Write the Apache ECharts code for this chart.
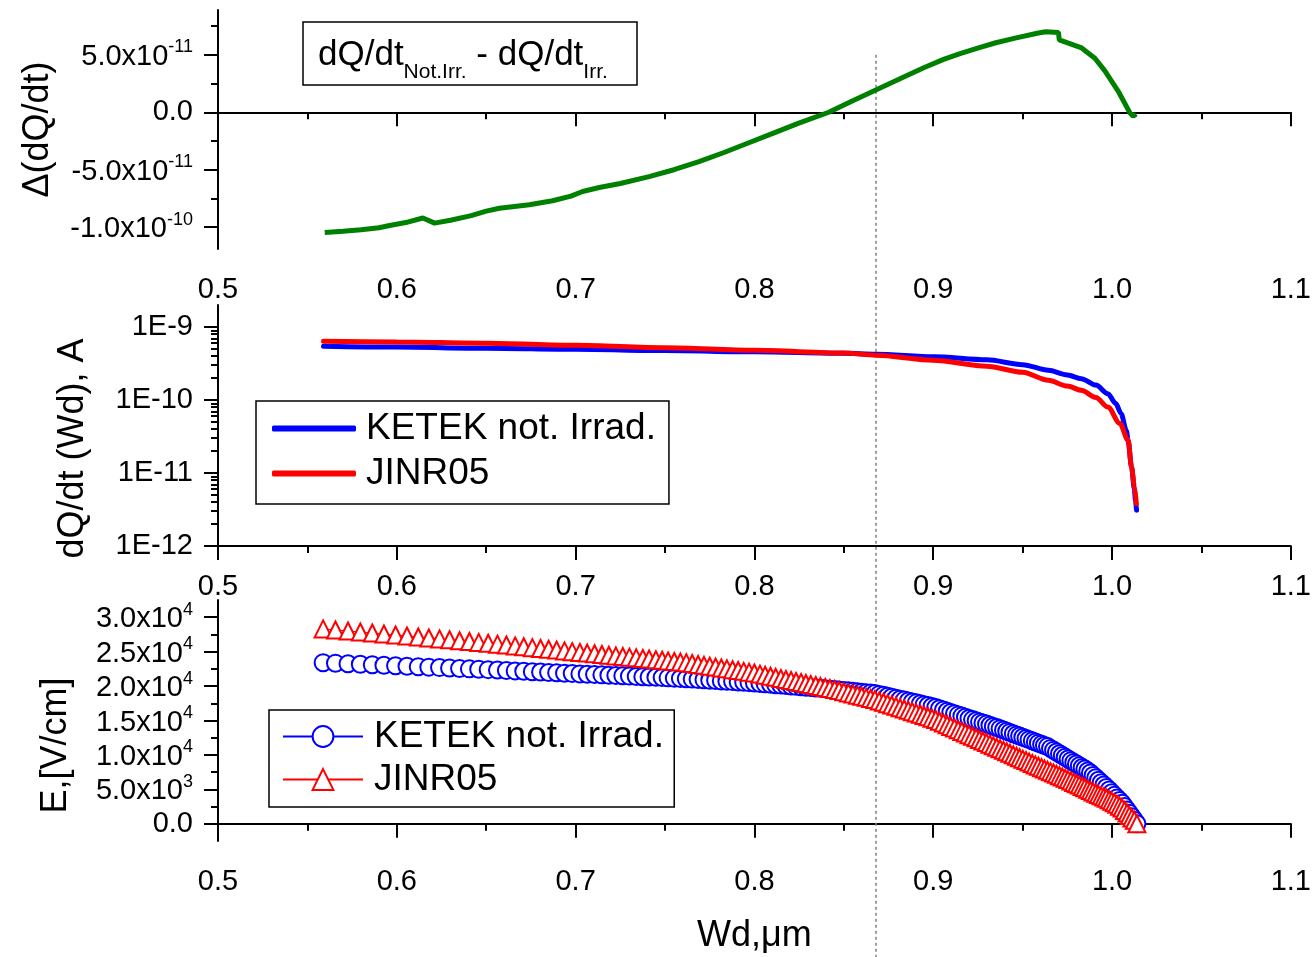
<!DOCTYPE html>
<html>
<head>
<meta charset="utf-8">
<script src="https://cdn.jsdelivr.net/npm/echarts@6/dist/echarts.min.js"></script>
<style>
html,body{margin:0;padding:0;background:#fff;}
#chart{width:1314px;height:957px;}
</style>
</head>
<body>
<div id="chart"></div>
<script>
// ---------- Data ----------
// Panel 1: difference dQ/dt(Not.Irr.) - dQ/dt(Irr.)
const wdDelta = [0.5597,0.570,0.580,0.590,0.596,0.605,0.6146,0.6211,0.630,0.6416,0.650,0.6574,0.6741,0.6871,0.6974,0.7039,0.7132,0.725,0.7411,0.755,0.769,0.783,0.7969,0.811,0.8248,0.8416,0.855,0.8685,0.8844,0.895,0.9058,0.915,0.9253,0.935,0.9458,0.9588,0.963,0.970,0.9705,0.9830,0.9904,0.9960,1.0034,1.0100,1.0118,1.0135];
const deltaDQ = [-10.47e-11,-10.35e-11,-10.22e-11,-10.05e-11,-9.85e-11,-9.6e-11,-9.2e-11,-9.65e-11,-9.4e-11,-9.0e-11,-8.6e-11,-8.35e-11,-8.05e-11,-7.7e-11,-7.3e-11,-6.9e-11,-6.55e-11,-6.2e-11,-5.6e-11,-5.0e-11,-4.3e-11,-3.5e-11,-2.65e-11,-1.8e-11,-0.95e-11,0.0,1.0e-11,1.98e-11,3.14e-11,3.9e-11,4.6e-11,5.1e-11,5.6e-11,6.05e-11,6.45e-11,6.9e-11,7.0e-11,6.95e-11,6.3e-11,5.6e-11,4.7e-11,3.6e-11,1.85e-11,-0.05e-11,-0.35e-11,-0.15e-11];

// Panel 2: dQ/dt (Wd), A
const wdKetekI = [0.559,0.6,0.65,0.7,0.75,0.8,0.85,0.868,0.9,0.93,0.95,0.9644,0.975,0.9828,0.991,0.9977,1.002,1.0051,1.008,1.009,1.0109,1.0125,1.0131,1.0137];
const currKetek = [5.45e-10,5.3e-10,5.12e-10,4.95e-10,4.76e-10,4.57e-10,4.35e-10,4.23e-10,3.9e-10,3.55e-10,3.05e-10,2.55e-10,2.2e-10,1.96e-10,1.6e-10,1.22e-10,9.0e-11,6.5e-11,3.8e-11,2.8e-11,1.21e-11,6.0e-12,4.2e-12,3.1e-12];
const wdJinrI = [0.559,0.6,0.65,0.7,0.75,0.8,0.85,0.868,0.9,0.93,0.95,0.9644,0.975,0.9828,0.991,0.9977,1.0044,1.009,1.0109,1.0125,1.0136];
const currJinr = [6.37e-10,6.25e-10,6.0e-10,5.6e-10,5.2e-10,4.8e-10,4.4e-10,4.1e-10,3.5e-10,2.9e-10,2.4e-10,1.86e-10,1.55e-10,1.36e-10,1.08e-10,8.0e-11,4.75e-11,2.8e-11,1.21e-11,6.5e-12,3.8e-12];

// Panel 3: E, V/cm (marker positions)
const wdField = [0.5588,0.5657,0.5727,0.5796,0.5863,0.5928,0.5993,0.6057,0.6120,0.6179,0.6239,0.6295,0.6351,0.6406,0.6458,0.6511,0.6563,0.6613,0.6662,0.6710,0.6758,0.6804,0.6849,0.6894,0.6938,0.6981,0.7024,0.7065,0.7106,0.7147,0.7186,0.7225,0.7264,0.7301,0.7339,0.7376,0.7411,0.7449,0.7484,0.7517,0.7552,0.7586,0.7619,
0.7652,0.7685,0.7718,0.7750,0.7783,0.7815,0.7846,0.7878,0.7909,0.7940,0.7970,0.8000,0.8031,0.8060,0.8090,0.8119,0.8148,0.8176,0.8205,0.8233,0.8261,0.8288,0.8315,0.8343,0.8369,0.8396,0.8422,0.8449,0.8474,0.8500,0.8526,0.8551,0.8576,0.8600,0.8625,0.8650,0.8674,0.8698,0.8722,0.8745,0.8768,0.8792,0.8815,0.8838,0.8861,0.8883,0.8905,0.8928,0.8949,0.8971,0.8993,0.9014,0.9035,0.9057,0.9078,0.9098,0.9119,0.9140,0.9160,0.9180,0.9200,0.9220,0.9240,0.9259,0.9278,0.9298,0.9317,0.9336,0.9355,0.9374,0.9393,0.9411,0.9429,0.9448,0.9466,0.9483,0.9501,0.9519,0.9536,0.9554,0.9571,0.9588,0.9606,0.9622,0.9639,0.9656,0.9673,0.9689,0.9706,0.9722,0.9738,0.9754,0.9770,0.9786,0.9801,0.9817,0.9833,0.9848,0.9864,0.9879,0.9894,0.9909,0.9924,0.9939,0.9954,0.9968,0.9984,0.9998,1.0013,1.0027,1.0042,1.0056,1.0070,1.0084,1.0097,1.0111,1.0125,1.0139];
const fieldKetek = [23400,23325,23250,23170,23100,23025,22955,22885,22815,22750,22685,22625,22560,22500,22445,22385,22325,22265,22205,22150,22090,22035,21980,21925,21875,21825,21770,21725,21675,21630,21580,21535,21490,21445,21400,21360,21315,21275,21235,21195,21150,21110,21070,
21015,20960,20905,20855,20800,20750,20700,20650,20600,20550,20500,20450,20385,20325,20260,20200,20140,20080,20020,19960,19900,19840,19785,19725,19670,19615,19555,19500,19440,19370,19305,19240,19175,19110,19045,18980,18915,18790,18650,18510,18375,18235,18095,17960,17825,17690,17560,17430,17300,17170,17025,16880,16700,16520,16340,16170,15990,15810,15640,15470,15300,15130,14965,14800,14640,14475,14310,14145,13980,13815,13625,13445,13270,13085,12910,12740,12565,12390,12220,12045,11875,11710,11535,11370,11210,10950,10690,10435,10170,9920,9670,9415,9165,8915,8680,8430,8180,7945,7665,7385,7030,6675,6320,5965,5620,5280,4895,4510,4130,3760,3380,3000,2495,2005,1520,1010,505,0];
const fieldJinr = [28300,28150,28000,27850,27700,27560,27415,27270,27125,26990,26850,26720,26590,26465,26345,26220,26085,25955,25830,25705,25580,25460,25340,25225,25110,25000,24890,24790,24685,24580,24485,24385,24290,24200,24100,24010,23925,23825,23740,23655,23570,23485,23400,
23270,23140,23010,22885,22755,22630,22505,22380,22255,22135,22020,21900,21735,21580,21425,21265,21110,20960,20805,20660,20510,20365,20220,20075,19930,19790,19650,19505,19345,19175,19005,18845,18685,18525,18360,18200,18040,17840,17645,17450,17255,17055,16860,16665,16475,16285,16100,15915,15730,15545,15340,15135,14890,14635,14380,14145,13895,13650,13415,13180,12945,12710,12480,12250,12025,11795,11565,11340,11115,10895,10670,10455,10240,10015,9805,9600,9385,9175,8970,8755,8555,8360,8150,7960,7770,7570,7380,7190,6990,6805,6620,6420,6215,6010,5820,5615,5410,5220,5020,4820,4630,4440,4250,4060,3880,3700,3500,3285,3070,2820,2560,2300,1925,1560,1200,850,500,0];

// Tick values
const deltaTicks = [-1e-10,-5e-11,0,5e-11];
const deltaMinor = [-7.5e-11,-2.5e-11,2.5e-11,7.5e-11];
const currTicks = [1e-12,1e-11,1e-10,1e-9];
const currMinor = [2e-12,3e-12,4e-12,5e-12,6e-12,7e-12,8e-12,9e-12,2e-11,3e-11,4e-11,5e-11,6e-11,7e-11,8e-11,9e-11,2e-10,3e-10,4e-10,5e-10,6e-10,7e-10,8e-10,9e-10];
const fieldTicks = [0,5000,10000,15000,20000,25000,30000];
const fieldMinor = [2500,7500,12500,17500,22500,27500];
const markerWd = 0.868;

// ---------- Chart ----------
const FONT = '"Liberation Sans", Arial, sans-serif';
const zip = (xs, ys) => xs.map((x, i) => [x, ys[i]]);
function sci(v) {
  if (Math.abs(v) < 1e-30) return '{b|0.0}';
  const e = Math.floor(Math.log10(Math.abs(v)) + 1e-9);
  const m = v / Math.pow(10, e);
  return '{b|' + m.toFixed(1) + 'x10}{s|' + e + '}';
}
const supRich = {
  b: {fontSize: 29, fontFamily: FONT, color: '#000', verticalAlign: 'bottom'},
  s: {fontSize: 18, fontFamily: FONT, color: '#000', verticalAlign: 'bottom', padding: [0, 0, 15, 0]}
};
const grids = [
  {left: 218, right: 21, top: 10, height: 239},
  {left: 218, right: 21, top: 305, height: 241},
  {left: 218, right: 21, top: 600, height: 241}
];
function xAxis(i, withName) {
  const ax = {
    type: 'value', gridIndex: i, min: 0.5, max: 1.1, interval: 0.1,
    axisLine: {show: true, lineStyle: {color: '#000', width: 2}},
    axisTick: {show: true, inside: false, length: 14, lineStyle: {color: '#000', width: 2}},
    minorTick: {show: true, splitNumber: 2, length: 7, lineStyle: {color: '#000', width: 2}},
    splitLine: {show: false},
    axisLabel: {fontSize: 29, fontFamily: FONT, color: '#000', margin: 26, formatter: v => v.toFixed(1)}
  };
  if (withName) {
    ax.name = 'Wd,\u03bcm';
    ax.nameLocation = 'middle';
    ax.nameGap = 77;
    ax.nameTextStyle = {fontSize: 36, fontFamily: FONT, color: '#000'};
  }
  return ax;
}
function yMain(i, extra) {
  return Object.assign({
    gridIndex: i, position: 'left',
    axisLine: {show: true, onZero: false, lineStyle: {color: '#000', width: 2}},
    splitLine: {show: false},
    nameLocation: 'middle',
  }, extra);
}
function yMinor(i, type, min, max, vals) {
  return {
    type: type, gridIndex: i, position: 'left', min: min, max: max,
    axisLine: {show: false},
    axisLabel: {show: false},
    splitLine: {show: false},
    axisTick: {show: true, length: 7, customValues: vals, lineStyle: {color: '#000', width: 2}}
  };
}

const option = {
  animation: false,
  backgroundColor: '#fff',
  textStyle: {fontFamily: FONT},
  title: {
    text: '{m|dQ/dt}{s|Not.Irr.}{m| - dQ/dt}{s|Irr.}',
    left: 303, top: 22,
    borderColor: '#000', borderWidth: 1.5,
    padding: [16, 29, 2, 15],
    textStyle: {
      fontWeight: 'normal',
      rich: {
        m: {fontSize: 35, fontWeight: 'normal', fontFamily: FONT, color: '#000', verticalAlign: 'top'},
        s: {fontSize: 21, fontWeight: 'normal', fontFamily: FONT, color: '#000', verticalAlign: 'top', padding: [24, 0, 0, 0]}
      }
    }
  },
  grid: grids,
  xAxis: [xAxis(0, false), xAxis(1, false), xAxis(2, true)],
  yAxis: [
    yMain(0, {
      type: 'value', min: -1.19e-10, max: 8.9e-11,
      name: '\u0394(dQ/dt)', nameGap: 162,
      nameTextStyle: {fontSize: 36, fontFamily: FONT, color: '#000'},
      axisTick: {show: true, length: 14, customValues: deltaTicks, lineStyle: {color: '#000', width: 2}},
      axisLabel: {customValues: deltaTicks, margin: 25, formatter: sci, rich: supRich}
    }),
    yMinor(0, 'value', -1.19e-10, 8.9e-11, deltaMinor),
    yMain(1, {
      type: 'log', min: 1e-12, max: 2e-9,
      name: 'dQ/dt (Wd), A', nameGap: 127,
      nameTextStyle: {fontSize: 36, fontFamily: FONT, color: '#000', padding: [0, 46, 0, 0]},
      axisTick: {show: true, length: 14, customValues: currTicks, lineStyle: {color: '#000', width: 2}},
      axisLabel: {customValues: currTicks, margin: 25, fontSize: 29, fontFamily: FONT, color: '#000',
        formatter: v => '1E' + Math.round(Math.log10(v))}
    }),
    yMinor(1, 'log', 1e-12, 2e-9, currMinor),
    yMain(2, {
      type: 'value', min: -2500, max: 32500,
      name: 'E,[V/cm]', nameGap: 144,
      nameTextStyle: {fontSize: 36, fontFamily: FONT, color: '#000', padding: [0, 50, 0, 0]},
      axisTick: {show: true, length: 14, customValues: fieldTicks, lineStyle: {color: '#000', width: 2}},
      axisLabel: {customValues: fieldTicks, margin: 25, formatter: sci, rich: supRich}
    }),
    yMinor(2, 'value', -2500, 32500, fieldMinor)
  ],
  legend: [
    {
      orient: 'vertical', left: 256, top: 401,
      padding: [9, 13, 12, 16], itemGap: 8,
      borderColor: '#000', borderWidth: 1.5,
      itemWidth: 84, itemHeight: 6,
      textStyle: {fontSize: 37, fontFamily: FONT, color: '#000', padding: [0, 0, 0, 5]},
      data: [{name: 'KETEK not. Irrad.', icon: 'roundRect'}, {name: 'JINR05', icon: 'roundRect'}]
    },
    {
      orient: 'vertical', left: 269, top: 710,
      padding: [8, 0, 9, 13], itemGap: 6,
      borderColor: '#000', borderWidth: 1.5,
      itemWidth: 80, itemHeight: 26,
      textStyle: {fontSize: 37, fontFamily: FONT, color: '#000', padding: [0, 0, 0, 6]},
      data: ['KETEK not. Irrad. ', 'JINR05 ']
    }
  ],
  series: [
    {
      type: 'line', name: 'delta', xAxisIndex: 0, yAxisIndex: 0,
      data: zip(wdDelta, deltaDQ), symbol: 'none',
      lineStyle: {color: '#008000', width: 5}, itemStyle: {color: '#008000'},
      markLine: {
        silent: true, symbol: 'none', z: 1,
        label: {show: false},
        lineStyle: {color: '#000', width: 1.5, type: [8, 6]},
        data: [{yAxis: 0}]
      }
    },
    {
      type: 'line', name: 'KETEK not. Irrad.', xAxisIndex: 1, yAxisIndex: 2,
      data: zip(wdKetekI, currKetek), symbol: 'none', smooth: 0.3, smoothMonotone: 'x',
      lineStyle: {color: '#0000ff', width: 5, cap: 'round'}, itemStyle: {color: '#0000ff'}
    },
    {
      type: 'line', name: 'JINR05', xAxisIndex: 1, yAxisIndex: 2,
      data: zip(wdJinrI, currJinr), symbol: 'none', smooth: 0.3, smoothMonotone: 'x',
      lineStyle: {color: '#ff0000', width: 5, cap: 'round'}, itemStyle: {color: '#ff0000'}
    },
    {
      type: 'line', name: 'KETEK not. Irrad. ', xAxisIndex: 2, yAxisIndex: 4,
      data: zip(wdField, fieldKetek), symbol: 'emptyCircle', symbolSize: 17,
      lineStyle: {color: '#0000ff', width: 1},
      itemStyle: {color: '#0000ff', borderColor: '#0000ff', borderWidth: 1.3}
    },
    {
      type: 'line', name: 'JINR05 ', xAxisIndex: 2, yAxisIndex: 4,
      data: zip(wdField, fieldJinr), symbol: 'emptyTriangle', symbolSize: 17,
      lineStyle: {color: '#ff0000', width: 1},
      itemStyle: {color: '#ff0000', borderColor: '#ff0000', borderWidth: 1.3}
    }
  ]
};

const chart = echarts.init(document.getElementById('chart'), null, {renderer: 'canvas'});
chart.setOption(option);

// vertical dotted reference line at Wd = markerWd, positioned through the axis scales
const px = chart.convertToPixel({xAxisIndex: 0}, markerWd);
const yTop = chart.convertToPixel({yAxisIndex: 0}, 5e-11);
chart.setOption({
  graphic: [{
    type: 'line', z: 1, silent: true,
    shape: {x1: px, y1: yTop, x2: px, y2: chart.getHeight()},
    style: {stroke: '#808080', lineWidth: 1.5, lineDash: [3, 3]}
  }]
});
</script>
</body>
</html>
